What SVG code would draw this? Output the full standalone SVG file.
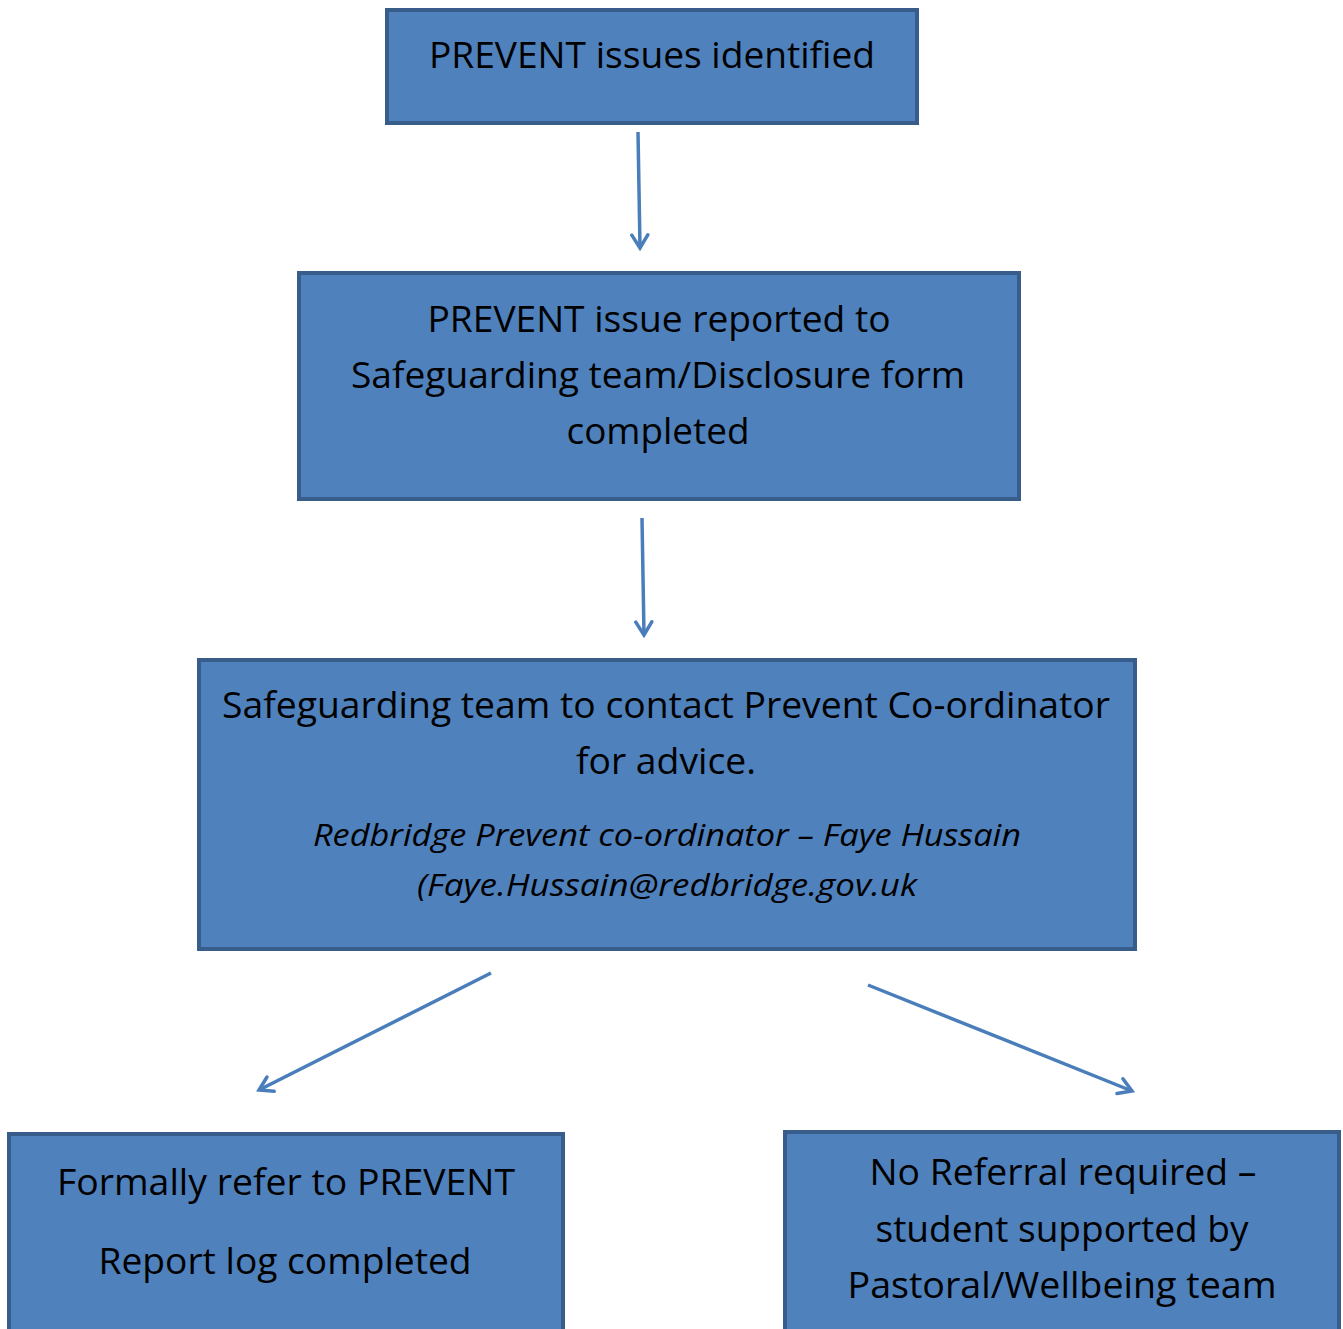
<svg xmlns="http://www.w3.org/2000/svg" width="1343" height="1329" viewBox="0 0 1343 1329">
<style>
.box{fill:#4F81BD;stroke:#385D8A;stroke-width:4}
.t{font-family:"Open Sans","Noto Sans","Liberation Sans",sans-serif;font-size:36px;fill:#000;text-anchor:middle}
.i{font-family:"Open Sans","Noto Sans","Liberation Sans",sans-serif;font-size:31px;font-style:italic;fill:#000;text-anchor:middle}
.c{stroke:#4A7EBB;stroke-width:3.5;fill:none;marker-end:url(#ah)}
</style>
<defs>
<marker id="ah" viewBox="0 0 20 20" refX="17" refY="10" markerWidth="20" markerHeight="20" markerUnits="userSpaceOnUse" orient="auto">
<path d="M4,2 L17,10 L4,18" fill="none" stroke="#4A7EBB" stroke-width="3.5" stroke-linecap="round"/>
</marker>
</defs>
<rect width="1343" height="1329" fill="#fff"/>
<g id="n1"><rect class="box" x="387" y="10" width="530" height="113"/>
<text class="t" x="652" y="68" textLength="446" lengthAdjust="spacingAndGlyphs">PREVENT issues identified</text></g>
<g id="n2"><rect class="box" x="299" y="273" width="720" height="226"/>
<text class="t" x="659" y="332" textLength="463" lengthAdjust="spacingAndGlyphs">PREVENT issue reported to</text>
<text class="t" x="658" y="388" textLength="614" lengthAdjust="spacingAndGlyphs">Safeguarding team/Disclosure form</text>
<text class="t" x="658" y="444" textLength="183" lengthAdjust="spacingAndGlyphs">completed</text></g>
<g id="n3"><rect class="box" x="199" y="660" width="936" height="289"/>
<text class="t" x="666" y="718" textLength="888" lengthAdjust="spacingAndGlyphs">Safeguarding team to contact Prevent Co-ordinator</text>
<text class="t" x="666" y="774" textLength="180" lengthAdjust="spacingAndGlyphs">for advice.</text>
<text class="i" x="667" y="846" textLength="708" lengthAdjust="spacingAndGlyphs">Redbridge Prevent co-ordinator – Faye Hussain</text>
<text class="i" x="667" y="896" textLength="500" lengthAdjust="spacingAndGlyphs">(Faye.Hussain@redbridge.gov.uk</text></g>
<g id="n4"><rect class="box" x="9" y="1134" width="554" height="200"/>
<text class="t" x="286" y="1195" textLength="458" lengthAdjust="spacingAndGlyphs">Formally refer to PREVENT</text>
<text class="t" x="285" y="1274" textLength="373" lengthAdjust="spacingAndGlyphs">Report log completed</text></g>
<g id="n5"><rect class="box" x="785" y="1132" width="554" height="200"/>
<text class="t" x="1063" y="1185" textLength="387" lengthAdjust="spacingAndGlyphs">No Referral required –</text>
<text class="t" x="1062" y="1242" textLength="373" lengthAdjust="spacingAndGlyphs">student supported by</text>
<text class="t" x="1062" y="1298" textLength="429" lengthAdjust="spacingAndGlyphs">Pastoral/Wellbeing team</text></g>
<g id="connectors">
<line class="c" x1="638" y1="132" x2="640" y2="248"/>
<line class="c" x1="642" y1="518" x2="644" y2="635"/>
<line class="c" x1="491" y1="973" x2="259" y2="1090"/>
<line class="c" x1="868" y1="985" x2="1132" y2="1091"/>
</g>
</svg>
